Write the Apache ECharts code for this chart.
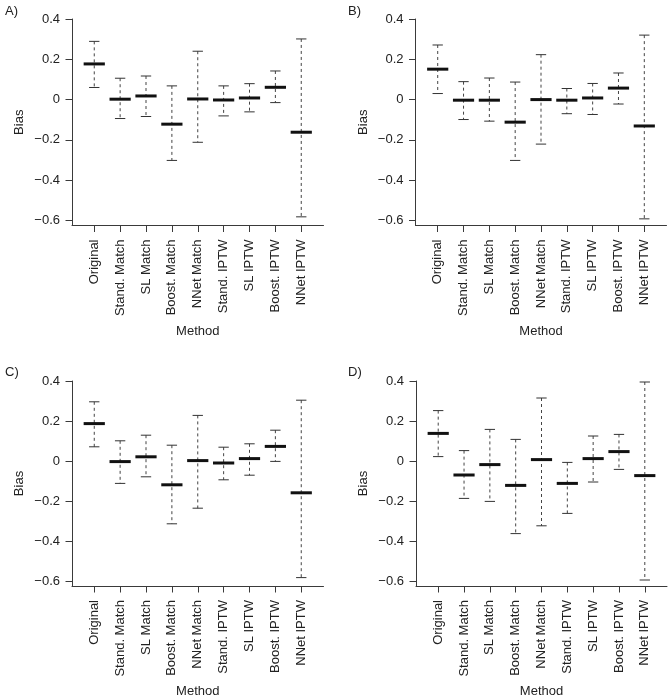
<!DOCTYPE html>
<html>
<head>
<meta charset="utf-8">
<script src="https://cdn.jsdelivr.net/npm/echarts@6/dist/echarts.min.js"></script>
<style>
  html, body { margin: 0; padding: 0; background: #fff; }
  #chart { width: 668px; height: 699px; }
</style>
</head>
<body>
<div id="chart"></div>
<script>
// ---- Data ----
const methods = ['Original', 'Stand. Match', 'SL Match', 'Boost. Match', 'NNet Match',
                 'Stand. IPTW', 'SL IPTW', 'Boost. IPTW', 'NNet IPTW'];
const panelNames = ['A)', 'B)', 'C)', 'D)'];
const yTicks = [-0.6, -0.4, -0.2, 0, 0.2, 0.4];

const lowA    = [0.060, -0.094, -0.084, -0.302, -0.212, -0.081, -0.061, -0.015, -0.582];
const medianA = [0.177,  0.002,  0.018, -0.122,  0.003, -0.002,  0.008,  0.061, -0.162];
const highA   = [0.289,  0.106,  0.117,  0.068,  0.240,  0.068,  0.079,  0.142,  0.301];

const lowB    = [0.030, -0.099, -0.107, -0.302, -0.221, -0.070, -0.074, -0.022, -0.592];
const medianB = [0.151, -0.003, -0.003, -0.112,  0.000, -0.003,  0.008,  0.057, -0.131];
const highB   = [0.271,  0.089,  0.107,  0.087,  0.223,  0.055,  0.080,  0.132,  0.320];

const lowC    = [0.071, -0.112, -0.079, -0.314, -0.236, -0.094, -0.071, -0.002, -0.583];
const medianC = [0.187, -0.003,  0.021, -0.119,  0.002, -0.010,  0.012,  0.073, -0.159];
const highC   = [0.296,  0.101,  0.129,  0.079,  0.228,  0.069,  0.086,  0.154,  0.304];

const lowD    = [0.022, -0.187, -0.202, -0.363, -0.324, -0.262, -0.105, -0.042, -0.595];
const medianD = [0.138, -0.070, -0.018, -0.122,  0.007, -0.112,  0.012,  0.047, -0.073];
const highD   = [0.252,  0.052,  0.158,  0.108,  0.315, -0.007,  0.125,  0.133,  0.395];

const panels = [
  { low: lowA, median: medianA, high: highA },
  { low: lowB, median: medianB, high: highB },
  { low: lowC, median: medianC, high: highC },
  { low: lowD, median: medianD, high: highD }
];

// ---- Layout ----
const grids = [
  { left: 72,  top: 19,  width: 251.5, height: 206.5 },
  { left: 415.5, top: 19, width: 251, height: 206.5 },
  { left: 72,  top: 381, width: 251.5, height: 206 },
  { left: 416, top: 381, width: 251, height: 206 }
];
const titlePos = [ { left: 0, top: 0 }, { left: 343, top: 0 }, { left: 0, top: 361 }, { left: 343, top: 361 } ];

const FONT = "'Liberation Sans', Arial, Helvetica, sans-serif";
const AX = '#3a3a3a';
const TXT = '#222';

function fmtY(v) {
  if (Math.abs(v) < 1e-9) return '0';
  return (v < 0 ? '\u2212' : '') + Math.abs(v).toFixed(1);
}

const xAxes = [], yAxes = [], series = [], titles = [];
panels.forEach((p, i) => {
  titles.push({ text: panelNames[i], left: titlePos[i].left, top: titlePos[i].top,
    textStyle: { fontFamily: FONT, fontSize: 13, fontWeight: 'normal', color: TXT } });
  xAxes.push({
    gridIndex: i, type: 'value', min: 0.14, max: 9.86,
    name: 'Method', nameLocation: 'middle', nameGap: 99,
    nameTextStyle: { fontFamily: FONT, fontSize: 13, color: TXT },
    axisLine: { show: true, onZero: false, lineStyle: { color: AX, width: 1 } },
    axisTick: { show: true, length: 6.5, lineStyle: { color: AX }, customValues: [1,2,3,4,5,6,7,8,9] },
    axisLabel: { show: true, rotate: 90, margin: 14, fontFamily: FONT, fontSize: 13, color: TXT,
      customValues: [1,2,3,4,5,6,7,8,9],
      formatter: v => methods[Math.round(v) - 1] },
    splitLine: { show: false }
  });
  yAxes.push({
    gridIndex: i, type: 'value', min: -0.625, max: 0.4,
    name: 'Bias', nameLocation: 'middle', nameGap: 46,
    nameTextStyle: { fontFamily: FONT, fontSize: 13, color: TXT },
    axisLine: { show: true, onZero: false, lineStyle: { color: AX, width: 1 } },
    axisTick: { show: true, length: 6.5, lineStyle: { color: AX }, customValues: yTicks },
    axisLabel: { show: true, margin: 12, fontFamily: FONT, fontSize: 13, color: TXT,
      customValues: yTicks, formatter: fmtY },
    splitLine: { show: false }
  });
  const data = methods.map((m, k) => [k + 1, p.low[k], p.median[k], p.high[k]]);
  series.push({
    type: 'custom', xAxisIndex: i, yAxisIndex: i, data: data,
    encode: { x: 0, y: [1, 2, 3] },
    renderItem: function (params, api) {
      const x = api.value(0);
      const lo = api.coord([x, api.value(1)]);
      const md = api.coord([x, api.value(2)]);
      const hi = api.coord([x, api.value(3)]);
      const capW = api.size([0.4, 0])[0];
      const medW = api.size([0.82, 0])[0];
      const thin = { stroke: '#333', lineWidth: 1 };
      return {
        type: 'group',
        children: [
          { type: 'line', shape: { x1: hi[0], y1: hi[1], x2: lo[0], y2: lo[1] },
            style: { stroke: '#444', lineWidth: 1, lineDash: [3, 3] } },
          { type: 'line', shape: { x1: hi[0] - capW / 2, y1: hi[1], x2: hi[0] + capW / 2, y2: hi[1] }, style: thin },
          { type: 'line', shape: { x1: lo[0] - capW / 2, y1: lo[1], x2: lo[0] + capW / 2, y2: lo[1] }, style: thin },
          { type: 'line', shape: { x1: md[0] - medW / 2, y1: md[1], x2: md[0] + medW / 2, y2: md[1] },
            style: { stroke: '#111', lineWidth: 3 } }
        ]
      };
    }
  });
});

const chart = echarts.init(document.getElementById('chart'), null, { renderer: 'canvas' });
chart.setOption({
  animation: false,
  backgroundColor: '#fff',
  title: titles,
  grid: grids,
  xAxis: xAxes,
  yAxis: yAxes,
  series: series
});
</script>
</body>
</html>
